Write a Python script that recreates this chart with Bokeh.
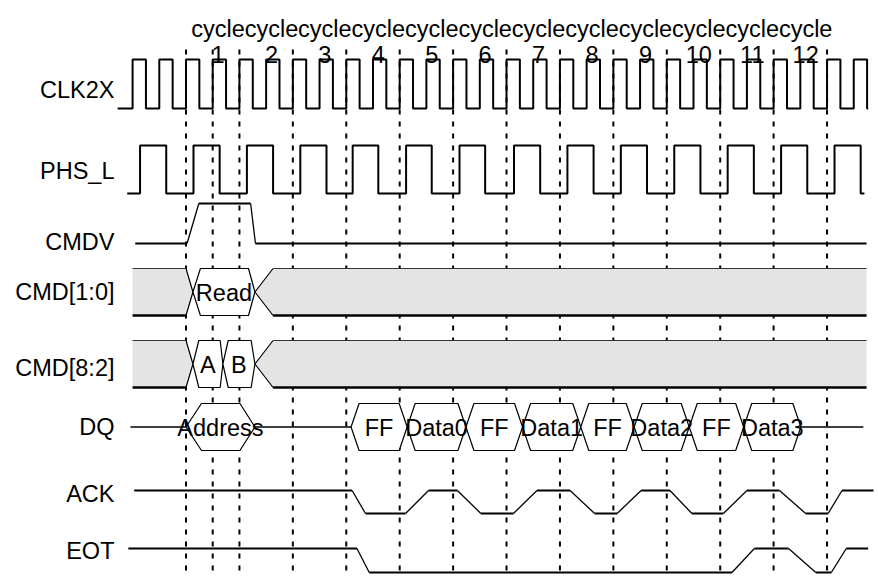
from bokeh.plotting import figure
from bokeh.models import Range1d, ColumnDataSource
from bokeh.embed import file_html
from bokeh.resources import INLINE
from bokeh.core.properties import value

FONT = "Liberation Sans"

# ---------------- data (time in clock cycles, cycle boundaries at integers) ----
signal_names = ["CLK2X", "PHS_L", "CMDV", "CMD[1:0]", "CMD[8:2]", "DQ", "ACK", "EOT"]
cycle_numbers = ["1", "2", "3", "4", "5", "6", "7", "8", "9", "10", "11", "12"]
cycle_start_t = [0, 1, 2, 3, 4, 5, 6, 7, 8, 9, 10, 11]
grid_t = [0.0, 0.5, 1.0, 2.0, 3.0, 4.0, 5.0, 6.0, 7.0, 8.0, 9.0, 10.0, 11.0, 12.0]

clk2x_rise = [-1.0, -0.5, 0.0, 0.5, 1.0, 1.5, 2.0, 2.5, 3.0, 3.5, 4.0, 4.5, 5.0,
              5.5, 6.0, 6.5, 7.0, 7.5, 8.0, 8.5, 9.0, 9.5, 10.0, 10.5, 11.0,
              11.5, 12.0, 12.5]
clk2x_high = 0.25
clk2x_span = (-1.28, 12.77)

phs_rise = [-0.86, 0.14, 1.14, 2.14, 3.12, 4.12, 5.12, 6.14, 7.14, 8.14,
            9.14, 10.14, 11.14, 12.14]
phs_fall = [-0.37, 0.63, 1.63, 2.63, 3.6, 4.6, 5.6, 6.63, 7.63, 8.63,
            9.63, 10.63, 11.63, 12.63]
phs_span = (-1.10, 12.70)

cmdv_t = [-0.95, 0.02, 0.24, 1.21, 1.30, 12.74]
cmdv_v = [0, 0, 1, 1, 0, 0]

ack_t = [-0.97, 3.11, 3.36, 4.11, 4.54, 5.08, 5.52, 6.13, 6.57, 7.19, 7.65,
         8.07, 8.52, 9.06, 9.47, 10.06, 10.50, 11.11, 11.60, 12.02, 12.28, 12.87]
ack_v = [1, 1, 0, 0, 1, 1, 0, 0, 1, 1, 0, 0, 1, 1, 0, 0, 1, 1, 0, 0, 1, 1]

eot_t = [-1.08, 3.20, 3.43, 10.22, 10.64, 11.28, 11.79, 12.08, 12.36, 12.77]
eot_v = [1, 1, 0, 0, 1, 1, 0, 0, 1, 1]

# bus states: (label, left point, left full, right full, right point); None = undefined
cmd10_states = [(None, -1.0, -1.0, 0.0, 0.13),
                ("Read", 0.13, 0.27, 1.17, 1.29),
                (None, 1.29, 1.63, 12.74, 12.74)]
cmd82_states = [(None, -1.0, -1.0, 0.0, 0.13),
                ("A", 0.13, 0.24, 0.64, 0.69),
                ("B", 0.69, 0.79, 1.22, 1.29),
                (None, 1.29, 1.63, 12.74, 12.74)]
dq_idle = [(-1.04, 0.0), (1.29, 3.09), (11.51, 12.68)]
dq_states = [("Address", 0.0, 0.29, 1.01, 1.29),
             ("FF", 3.09, 3.24, 3.99, 4.14),
             ("Data0", 4.14, 4.29, 5.09, 5.24),
             ("FF", 5.24, 5.39, 6.15, 6.30),
             ("Data1", 6.30, 6.45, 7.24, 7.39),
             ("FF", 7.39, 7.54, 8.24, 8.39),
             ("Data2", 8.39, 8.54, 9.27, 9.42),
             ("FF", 9.42, 9.57, 10.29, 10.44),
             ("Data3", 10.44, 10.59, 11.36, 11.51)]

# ---------------- layout (screen pixels) ----------------
W, H = 878, 577
X0, SCALE = 185.5, 53.42          # screen x of t=0, pixels per cycle
def px2t(x):
    return (x - X0) / SCALE

rows = {  # (high/top y, low/bottom y)
    "CLK2X": (59, 108), "PHS_L": (145, 193), "CMDV": (203, 243),
    "CMD[1:0]": (268, 315), "CMD[8:2]": (340, 387), "DQ": (403, 450),
    "ACK": (490, 513), "EOT": (548, 572),
}
label_y = [89, 170, 241, 291, 367, 426, 493, 550]
FS = "23.5px"

p = figure(width=W, height=H, x_range=Range1d(px2t(0), px2t(W)),
           y_range=Range1d(H, 0), output_backend="svg", toolbar_location=None,
           x_axis_type=None, y_axis_type=None, min_border=0)
p.grid.visible = False
p.outline_line_color = None
p.background_fill_color = "white"

# dashed cycle markers
p.segment(x0=grid_t, x1=grid_t, y0=[49] * len(grid_t), y1=[H] * len(grid_t),
          line_color="black", line_width=2, line_dash="5 7")

def lvl(name, v):
    hi, lo = rows[name]
    return lo + v * (hi - lo)

# clock-like square waves
def square(name, rises, falls, span):
    xs, ys = [span[0]], [lvl(name, 0)]
    for r, f in zip(rises, falls):
        xs += [r, r, f, f]
        ys += [lvl(name, 0), lvl(name, 1), lvl(name, 1), lvl(name, 0)]
    xs.append(span[1]); ys.append(lvl(name, 0))
    p.line(xs, ys, line_color="black", line_width=2)

square("CLK2X", clk2x_rise, [r + clk2x_high for r in clk2x_rise], clk2x_span)
square("PHS_L", phs_rise, phs_fall, phs_span)

# sloped digital signals
def sloped(name, ts, vs):
    flat = dict(x0=[], y0=[], x1=[], y1=[])
    slope = dict(x0=[], y0=[], x1=[], y1=[])
    for i in range(len(ts) - 1):
        d = flat if vs[i] == vs[i + 1] else slope
        d["x0"].append(ts[i]); d["x1"].append(ts[i + 1])
        d["y0"].append(lvl(name, vs[i])); d["y1"].append(lvl(name, vs[i + 1]))
    p.segment(source=ColumnDataSource(flat), x0="x0", y0="y0", x1="x1", y1="y1",
              line_color="black", line_width=2)
    p.segment(source=ColumnDataSource(slope), x0="x0", y0="y0", x1="x1", y1="y1",
              line_color="black", line_width=1.3)

sloped("CMDV", cmdv_t, cmdv_v)
sloped("ACK", ack_t, ack_v)
sloped("EOT", eot_t, eot_v)

# buses
texts = dict(x=[], y=[], t=[])
def bus(name, states):
    top, bot = rows[name]
    mid = (top + bot) / 2
    for lab, lp, lf, rf, rp in states:
        if lp == lf and rp == rf:
            xs = [lf, rf, rf, lf]; ys = [top, top, bot, bot]
        elif lp == lf:
            xs = [lf, rf, rp, rf, lf]; ys = [top, top, mid, bot, bot]
        elif rp == rf:
            xs = [lp, lf, rf, rf, lf]; ys = [mid, top, top, bot, bot]
        else:
            xs = [lp, lf, rf, rp, rf, lf]; ys = [mid, top, top, mid, bot, bot]
        if lab is None:
            p.patch(xs, ys, fill_color="#e4e4e4", line_color=None)
            p.line([lf, rf], [top, top], line_color="#333333", line_width=1.2)
            p.line([lf, rf], [bot, bot], line_color="black", line_width=2.5)
            if lp != lf:
                p.line([lf, lp, lf], [top, mid, bot], line_color="black", line_width=1.2)
            if rp != rf:
                p.line([rf, rp, rf], [top, mid, bot], line_color="black", line_width=1.2)
        else:
            p.patch(xs, ys, fill_color="white", line_color="black", line_width=1.2)
            texts["x"].append((lp + rp) / 2); texts["y"].append(mid + 1)
            texts["t"].append(lab)

bus("CMD[1:0]", cmd10_states)
bus("CMD[8:2]", cmd82_states)
dq_top, dq_bot = rows["DQ"]
dq_mid = (dq_top + dq_bot) / 2
for a, b in dq_idle:
    p.line([a, b], [dq_mid, dq_mid], line_color="black", line_width=1.3)
bus("DQ", dq_states)

p.text(x="x", y="y", text="t", source=ColumnDataSource(texts),
       text_font=value(FONT), text_font_size=FS, text_align="center",
       text_baseline="middle", text_color="black")

# signal names
p.text(x=[px2t(114)] * len(signal_names), y=label_y, text=signal_names,
       text_font=value(FONT), text_font_size=FS, text_align="right",
       text_baseline="middle", text_color="black")

# cycle labels
lab_x = [c + 0.6 for c in cycle_start_t]
p.text(x=lab_x, y=[28] * 12, text=["cycle"] * 12, text_font=value(FONT),
       text_font_size=FS, text_align="center", text_baseline="alphabetic",
       text_color="black")
p.text(x=lab_x, y=[54] * 12, text=cycle_numbers, text_font=value(FONT),
       text_font_size=FS, text_align="center", text_baseline="alphabetic",
       text_color="black")

open("out.html", "w").write(file_html(p, INLINE))
